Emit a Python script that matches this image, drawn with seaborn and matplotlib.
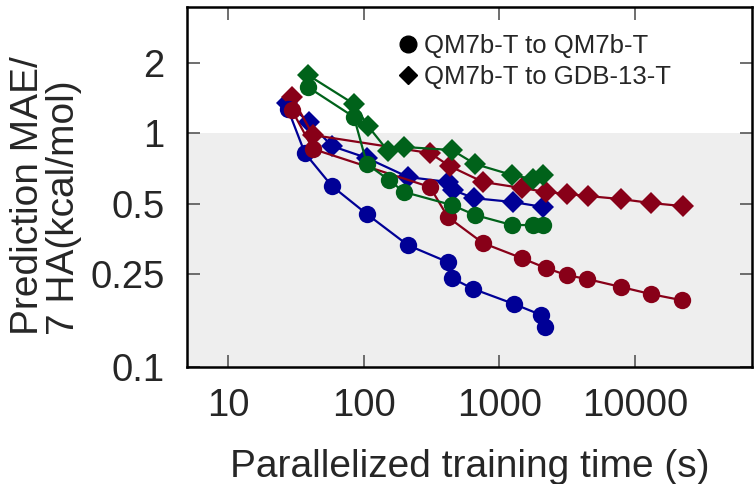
import matplotlib
matplotlib.use("Agg")
import matplotlib.pyplot as plt
from matplotlib.lines import Line2D
import seaborn as sns
import pandas as pd

# values (training time in s, MAE in kcal/mol)
blue_circ_t = [27.6, 36.8, 58.2, 105.6, 212, 418, 448, 640, 1284, 2032, 2174]
blue_circ_mae = [1.27, 0.823, 0.595, 0.451, 0.332, 0.281, 0.240, 0.216, 0.186, 0.167, 0.148]

blue_diam_t = [27.1, 39.4, 58.2, 105.6, 212, 418, 455, 650, 1262, 2101]
blue_diam_mae = [1.348, 1.118, 0.882, 0.784, 0.650, 0.619, 0.572, 0.528, 0.508, 0.484]

red_circ_t = [29.5, 42.2, 308, 418, 758, 1471, 2212, 3160, 4437, 7907, 13170, 22290]
red_circ_mae = [1.258, 0.857, 0.589, 0.438, 0.339, 0.292, 0.265, 0.247, 0.238, 0.220, 0.205, 0.193]

red_diam_t = [29.5, 42.2, 308, 430, 758, 1471, 2212, 3160, 4500, 7907, 13170, 22680]
red_diam_mae = [1.43, 0.983, 0.823, 0.724, 0.619, 0.583, 0.561, 0.550, 0.539, 0.523, 0.503, 0.488]

green_circ_t = [38.7, 84.7, 105.6, 153.5, 198, 448, 662, 1241, 1773, 2101]
green_circ_mae = [1.578, 1.174, 0.739, 0.631, 0.561, 0.493, 0.447, 0.405, 0.405, 0.405]

green_diam_t = [38.7, 84.7, 107.4, 150.9, 198, 448, 662, 1241, 1773, 2101]
green_diam_mae = [1.777, 1.335, 1.075, 0.840, 0.874, 0.848, 0.739, 0.663, 0.637, 0.663]

x_ticks = [10, 100, 1000, 10000]
y_ticks = [0.1, 0.25, 0.5, 1, 2]
y_tick_labels = ["0.1", "0.25", "0.5", "1", "2"]
legend_labels = ["QM7b-T to QM7b-T", "QM7b-T to GDB-13-T"]

colors = {"blue": "#000096", "red": "#880018", "green": "#00621a"}

sns.set_style("ticks")
plt.rcParams["font.family"] = ["Liberation Sans", "DejaVu Sans"]


def make_df(t, mae, color, kind):
    return pd.DataFrame({"time": t, "mae": mae, "color": color, "kind": kind})


circles = pd.concat([
    make_df(blue_circ_t, blue_circ_mae, "blue", "circle"),
    make_df(red_circ_t, red_circ_mae, "red", "circle"),
    make_df(green_circ_t, green_circ_mae, "green", "circle"),
], ignore_index=True)
diamonds = pd.concat([
    make_df(blue_diam_t, blue_diam_mae, "blue", "diamond"),
    make_df(red_diam_t, red_diam_mae, "red", "diamond"),
    make_df(green_diam_t, green_diam_mae, "green", "diamond"),
], ignore_index=True)

fig = plt.figure(figsize=(7.55, 4.84), dpi=100)
ax = fig.add_axes([0.2473, 0.2417, 0.7487, 0.7438])
ax.set_xscale("log")
ax.set_yscale("log")

# shaded band below 1 kcal/mol
ax.axhspan(0.05, 1, color="#eeeeee", zorder=0, lw=0)

sns.lineplot(data=diamonds, x="time", y="mae", hue="color", palette=colors,
             units="color", estimator=None, sort=False, marker="D",
             markersize=11, markeredgewidth=0, linewidth=1.6, legend=False, ax=ax)
sns.lineplot(data=circles, x="time", y="mae", hue="color", palette=colors,
             units="color", estimator=None, sort=False, marker="o",
             markersize=12.5, markeredgewidth=0, linewidth=1.6, legend=False, ax=ax)

ax.set_xlim(4.95, 73000)
ax.set_ylim(0.1, 3.47)
ax.set_xticks(x_ticks)
ax.set_xticklabels([str(v) for v in x_ticks])
ax.set_yticks(y_ticks)
ax.set_yticklabels(y_tick_labels)
ax.minorticks_off()
ax.tick_params(which="both", direction="in", length=9, width=1.2, color="#555555",
               top=True, right=True, labelsize=27.5)
ax.tick_params(axis="x", pad=15)
ax.tick_params(axis="y", pad=16)
for s in ax.spines.values():
    s.set_linewidth(1.8)
    s.set_color("black")

ax.set_xlabel("Parallelized training time (s)", fontsize=28)
ax.xaxis.set_label_coords(0.5, -0.228)
ax.set_ylabel("Prediction MAE/\n7 HA(kcal/mol)", fontsize=28, multialignment="left",
              linespacing=1.0)
ax.yaxis.set_label_coords(-0.185, 0.475)

handles = [
    Line2D([], [], color="black", marker="o", linestyle="none", markersize=12),
    Line2D([], [], color="black", marker="D", linestyle="none", markersize=9),
]
ax.legend(handles, legend_labels, loc="upper left", bbox_to_anchor=(0.342, 0.967),
          frameon=False, fontsize=18.5, handletextpad=0.1, handlelength=1.0,
          labelspacing=0.25, borderaxespad=0.2)

fig.savefig("out.png", dpi=100)
